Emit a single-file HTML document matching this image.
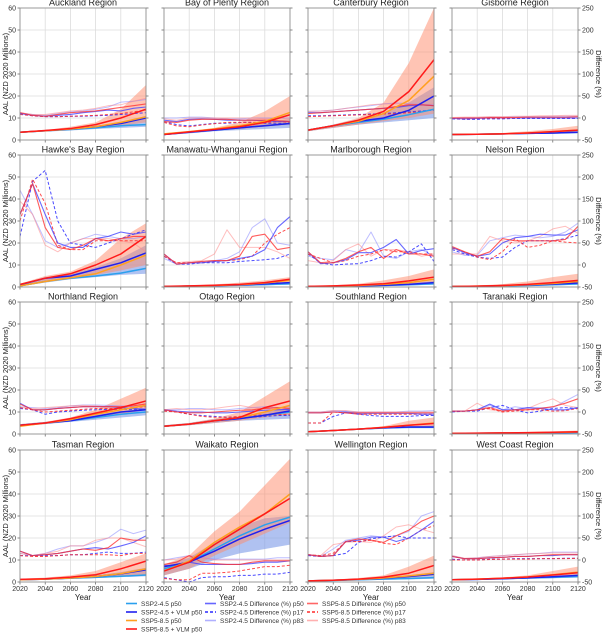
<!DOCTYPE html>
<html><head><meta charset="utf-8"><style>
html,body{margin:0;padding:0;background:#fff;}
svg{display:block;font-family:"Liberation Sans",sans-serif;}
</style></head><body>
<svg id="chart" width="602" height="636" viewBox="0 0 602 636"></svg>
<script>
const years=[2020,2040,2060,2080,2100,2120];
const diffYears=[2020,2030,2040,2050,2060,2070,2080,2090,2100,2110,2120];
const regions=["Auckland Region","Bay of Plenty Region","Canterbury Region","Gisborne Region","Hawke's Bay Region","Manawatu-Whanganui Region","Marlborough Region","Nelson Region","Northland Region","Otago Region","Southland Region","Taranaki Region","Tasman Region","Waikato Region","Wellington Region","West Coast Region"];
const yTicks=[0,10,20,30,40,50,60];
const yTicksRight=[-50,0,50,100,150,200,250];
const xTicks=[2020,2040,2060,2080,2100,2120];
// AAL (NZD 2020 millions)
const s2=[[3.5,4.2,4.8,5.5,6.5,7],[2.5,3.5,4.5,5.5,6.5,7.5],[4.5,6.5,8,9.5,11.5,14],[2.5,2.6,2.8,3,3.2,3.5],[0.5,2.5,4,5,6.3,8.5],[0.2,0.4,0.6,0.8,1.1,1.5],[0.2,0.3,0.5,0.7,1,1.5],[0.2,0.3,0.5,0.7,1,1.4],[4,5,6,7.5,9,10],[3.5,4.5,6,7,8.5,10],[1,1.6,2.2,2.7,3,3],[0.3,0.35,0.4,0.45,0.5,0.6],[1,1.3,1.7,2.1,2.6,3.2],[6,9,15,21,26,29.5],[0.5,0.7,1,1.3,1.6,2],[1,1.2,1.5,1.8,2.1,2.5]];
const s2v=[[3.5,4.2,5,6,7.5,10],[2.5,3.5,4.5,5.5,6.5,7.5],[4.5,6.5,8.5,10,13.5,20],[2.5,2.6,2.8,3,3.2,3.5],[1,4,5,8,11,15.5],[0.2,0.4,0.6,0.9,1.4,2],[0.2,0.3,0.5,0.8,1.2,2],[0.2,0.35,0.6,0.9,1.3,1.8],[4,5,6,8,10,11],[3.5,4.5,6,7,8.5,10.5],[1,1.6,2.2,2.8,3.2,3.2],[0.3,0.35,0.4,0.5,0.6,0.8],[1,1.3,1.8,2.5,3.7,5.5],[7,9,14,19.5,24,28],[0.5,0.8,1.2,1.7,2.5,3.5],[1,1.2,1.5,1.9,2.4,3]];
const s5=[[3.5,4.2,5,6,8,10.5],[2.8,3.8,5,6.5,8.5,12.5],[4.5,6.5,8.5,12,18,29],[2.5,2.6,2.8,3.2,3.8,4.5],[0.5,2.5,4.2,6,10,14.5],[0.2,0.4,0.7,1,1.8,3],[0.2,0.4,0.7,1.2,2,3.5],[0.2,0.4,0.6,1,1.6,2.5],[3.5,5,6.5,9,11,13],[3.5,4.5,6,7.5,10,13],[1,1.6,2.2,3,4,5],[0.3,0.35,0.45,0.55,0.7,0.9],[1,1.3,1.8,2.5,3.8,6],[5,9.5,18,25,31,40],[0.5,0.8,1.2,1.8,2.8,4],[1,1.3,1.7,2.3,3.3,4.5]];
const s5v=[[3.5,4.3,5.2,7,10,14],[2.5,3.7,4.8,6,8,11.5],[4.5,6.5,9,13,22,36.5],[2.5,2.6,2.8,3.2,3.8,4.5],[1.2,4,6,10,15,23],[0.3,0.5,0.8,1.2,2,3.5],[0.3,0.5,0.9,1.5,2.8,4.5],[0.2,0.4,0.7,1.2,2,3],[4,5,7,9.5,12,15],[3.5,4.5,6,7.5,12,15],[1,1.6,2.2,3,4,4.8],[0.3,0.4,0.5,0.6,0.8,1],[1.2,1.5,2.2,3.3,6,9.5],[5,9,17,24,31,38],[0.5,0.8,1.3,2.2,4,7.5],[1,1.3,1.7,2.3,3.2,4.2]];
const b2lo=[[3.2,3.8,4.3,5,5.5,6],[2.2,3,4,4.5,5,5.5],[4,5.5,7,8,9,10],[2.4,2.5,2.6,2.7,2.8,3],[0.3,2,3.5,4.5,5.5,6],[0.1,0.3,0.4,0.6,0.8,1],[0.1,0.2,0.3,0.5,0.7,1],[0.1,0.2,0.3,0.5,0.7,1],[3.5,4.5,5.5,6.5,7.5,8.5],[3.2,4,5,6,6.5,7],[0.8,1.4,2,2.5,2.8,3],[0.2,0.25,0.3,0.35,0.4,0.45],[0.8,1.1,1.4,1.8,2.2,2.6],[3,6,10,13,15,17],[0.3,0.5,0.7,1,1.2,1.5],[0.8,1,1.2,1.5,1.7,2]];
const b2hi=[[3.5,4.3,5.3,6.5,8,11],[3,4,5,6.5,8,9.5],[4.5,7,9.5,12,17,24],[2.6,2.7,3,3.3,3.6,4],[1,4.5,6,9,13,19],[0.3,0.5,0.8,1.1,1.6,2.3],[0.3,0.5,0.8,1.2,1.8,2.7],[0.3,0.5,0.8,1.1,1.6,2.3],[4.5,5.5,6.8,8.5,10.5,12],[4,5,6.8,8,10,12],[1.2,1.8,2.4,3,3.5,4],[0.4,0.45,0.5,0.6,0.75,1],[1.2,1.6,2.2,3,4.5,6.5],[8,11,18,25,29,30],[0.6,0.9,1.4,2,3,4.5],[1.1,1.4,1.8,2.3,3,3.6]];
const b5lo=[[3.5,4,4.5,5.5,6.5,8],[2.5,3.3,4.3,5,6,7],[4,5.5,7,8.5,10,12],[2.4,2.5,2.6,2.8,3,3.2],[0.5,2.5,4,5.5,7.5,10],[0.1,0.3,0.5,0.7,1,1.5],[0.1,0.3,0.5,0.8,1.2,2],[0.1,0.3,0.5,0.7,1,1.5],[3.5,4.5,5.8,7.5,9,11],[3.2,4,5,6,7.5,9],[0.8,1.4,2,2.5,3,3.5],[0.2,0.3,0.35,0.4,0.5,0.6],[0.8,1.1,1.5,2,2.8,3.5],[3,6,12,17,22,27],[0.3,0.6,0.9,1.3,2,3],[0.8,1,1.3,1.6,2,2.5]];
const b5hi=[[3.5,4.5,6,8,14,25],[3,4,5.5,8,13,20],[4.5,7,10,17,35,60],[2.6,2.8,3.2,4,5,6.5],[1.5,5,7,12,22,29],[0.4,0.7,1.2,2,3,4.5],[0.4,0.8,1.5,3,5,8],[0.3,0.7,1.3,2.5,4.5,6],[4.5,5.5,7.5,11,16,21],[4,5,7,10,17,24],[1.2,1.8,2.5,3.5,6,7.5],[0.4,0.5,0.6,0.8,1.2,1.6],[1.5,2,3,5,9,13],[8,12,23,32,44,56],[0.7,1.1,1.8,3,7,12],[1.2,1.5,2.1,3,5,7]];
// Difference (%)
const d2p50=[[10,6,4,6,8,12,15,18,16,22,25],[-5,-8,-3,-2,-3,-5,-5,-5,-6,-8,-8],[12,12,14,16,18,20,22,24,28,30,28],[-1,-2,-1,0,0,0,0,0,0,0,0],[115,185,115,50,40,40,60,65,75,70,75],[25,2,5,5,8,10,15,20,35,85,110],[30,3,5,12,28,28,40,58,25,33,37],[40,28,20,25,50,62,65,70,68,68,80],[20,5,5,8,10,12,12,12,10,8,6],[5,2,0,0,-2,-2,0,2,4,5,6],[-2,-2,0,0,-3,-3,-3,-3,-3,-5,-5],[2,2,5,18,5,5,10,8,5,5,10],[20,10,12,15,20,25,28,25,32,40,55],[-12,-15,-5,-10,-10,-10,-10,-8,-5,-5,-2],[12,8,10,42,45,52,52,42,50,68,88],[8,3,3,5,6,8,8,10,10,12,12]];
const d2p17=[[10,5,3,3,4,4,5,6,8,10,12],[-8,-15,-18,-15,-12,-12,-10,-10,-12,-12,-14],[5,5,6,7,8,9,10,12,14,16,18],[-2,-3,-3,-2,-2,-1,-1,-1,-1,-1,-1],[65,190,215,100,50,45,40,50,60,70,80],[20,2,2,5,5,5,8,10,12,15,25],[25,5,0,2,3,10,20,18,30,48,8],[35,25,18,15,18,40,55,55,55,60,68],[8,5,-5,0,2,4,5,6,6,6,6],[3,0,-5,-8,-10,-12,-12,-12,-10,-8,-8],[-25,-25,-10,-2,-5,-8,-10,-10,-10,-8,-8],[0,2,2,10,15,5,-2,2,8,10,8],[10,10,10,10,12,12,15,18,15,15,18],[-40,-45,-50,-40,-38,-38,-35,-35,-32,-32,-28],[10,8,10,15,40,48,52,55,50,50,50],[2,0,0,2,2,3,3,3,3,4,4]];
const d2p83=[[12,8,6,10,14,16,20,25,36,38,42],[0,0,2,2,0,-2,-2,0,0,0,0],[15,16,18,22,25,28,32,34,33,30,30],[0,1,1,2,2,3,3,3,4,4,4],[170,115,55,40,50,60,70,65,60,60,65],[15,2,5,8,10,15,30,85,105,50,45],[20,15,12,35,28,75,20,15,30,35,20],[30,22,22,55,62,68,65,62,65,75,95],[12,10,8,10,14,16,16,15,14,12,12],[5,5,8,8,5,5,8,10,12,10,12],[0,0,3,2,0,0,0,0,2,2,3],[2,2,5,15,5,12,8,10,10,25,40],[15,10,15,25,32,32,40,50,70,60,68],[0,5,10,5,2,2,2,2,2,5,5],[12,8,25,45,50,55,52,55,65,100,110],[10,3,5,8,10,12,14,15,18,18,18]];
const d5p50=[[12,6,4,8,12,14,16,20,24,28,32],[-8,-10,-5,-3,-3,-3,-5,-5,-5,-6,-8],[10,12,14,16,18,20,22,26,30,30,28],[0,0,0,1,1,1,2,2,2,2,3],[115,185,85,40,35,45,60,55,60,65,65],[25,2,5,8,10,10,20,65,70,35,40],[30,5,5,15,30,40,15,35,25,25,20],[42,30,20,30,60,55,55,55,55,58,88],[18,5,5,8,10,12,12,12,12,14,18],[5,0,-2,-2,0,2,4,5,8,10,8],[-2,-2,0,-2,-2,-2,-2,-2,-2,-2,-2],[2,2,5,10,2,5,5,8,12,20,30],[20,10,12,15,20,25,22,28,50,45,45],[-10,-5,10,-5,-8,-10,-10,-5,-2,-2,-2],[12,8,10,42,48,45,40,55,68,88,100],[8,3,3,5,6,8,8,10,12,12,12]];
const d5p17=[[8,5,3,3,4,5,6,8,10,14,18],[-10,-18,-20,-16,-13,-10,-10,-10,-10,-8,-10],[3,4,5,6,7,8,9,10,12,14,20],[-1,-2,-1,-1,-1,0,0,0,0,0,0],[100,195,140,45,35,35,55,55,55,55,55],[20,5,5,5,8,10,12,20,50,70,85],[25,15,5,10,20,25,35,30,30,25,25],[38,30,18,12,30,60,40,45,55,52,50],[10,5,0,2,4,6,8,8,8,10,12],[2,0,-5,-10,-12,-12,-10,-8,-6,-6,-6],[-25,-25,0,-2,-5,-5,-5,-5,-5,-5,-5],[2,2,5,8,0,2,5,5,2,3,8],[10,8,8,10,12,12,12,12,10,15,15],[-42,-45,-45,-30,-30,-28,-25,-20,-15,-15,-12],[12,10,15,42,42,45,38,35,50,68,78],[0,0,0,1,2,2,2,3,3,3,4]];
const d5p83=[[12,8,8,12,16,18,22,28,30,38,45],[-2,-5,0,0,0,0,0,0,-2,-2,-2],[15,16,18,22,26,30,32,32,32,30,32],[1,2,2,3,3,4,4,5,5,6,6],[145,115,45,30,50,60,60,60,55,50,30],[20,5,8,10,25,80,40,40,40,30,15],[10,5,10,35,48,20,35,35,30,20,25],[25,25,25,65,55,50,55,65,82,88,72],[10,8,10,12,14,15,14,12,12,15,20],[5,8,5,5,8,12,15,10,8,6,5],[0,0,3,3,0,0,0,0,0,0,0],[2,2,20,5,2,5,8,20,30,15,10],[15,10,15,20,32,32,45,50,50,40,30],[0,2,10,5,0,0,0,0,0,0,0],[12,10,35,40,42,40,55,75,80,70,62],[10,4,5,8,10,12,14,15,16,16,16]];

const NS="http://www.w3.org/2000/svg";
const svg=document.getElementById('chart');
function el(tag,attrs,parent,text){const e=document.createElementNS(NS,tag);for(const k in attrs)e.setAttribute(k,attrs[k]);if(text!==undefined)e.textContent=text;(parent||svg).appendChild(e);return e;}
const colX=[20,164,308,452], rowY=[8,155,302,450], PW=126, PH=132;

regions.forEach((name,i)=>{
  const c=i%4,r=Math.floor(i/4);
  const x0=colX[c],y0=rowY[r];
  const xs=v=>x0+(v-2020)/100*PW;
  const ys=v=>y0+PH-v/60*PH;
  const yd=v=>y0+PH-(v+50)/300*PH;
  const g=el('g',{},svg);
  
  
  const cp='clip'+i;
  const cl=el('clipPath',{id:cp},g);el('rect',{x:x0,y:y0,width:PW,height:PH},cl);
  // grid
  xTicks.forEach(t=>{el('line',{x1:xs(t),x2:xs(t),y1:y0,y2:y0+PH,stroke:'#dcdcdc','stroke-width':0.8},g);
    el('line',{x1:xs(t),x2:xs(t),y1:y0+PH,y2:y0+PH+2.5,stroke:'#555','stroke-width':0.7},g);});
  yTicks.forEach(t=>{el('line',{x1:x0,x2:x0+PW,y1:ys(t),y2:ys(t),stroke:'#dcdcdc','stroke-width':0.8},g);
    el('line',{x1:x0-2.5,x2:x0,y1:ys(t),y2:ys(t),stroke:'#555','stroke-width':0.7},g);
    el('line',{x1:x0+PW,x2:x0+PW+2.5,y1:ys(t),y2:ys(t),stroke:'#555','stroke-width':0.7},g);});
  const pg=el('g',{'clip-path':'url(#'+cp+')'},g);
  function band(lo,hi,fill,op,nm){
    let d='M'+years.map((y,k)=>xs(y)+','+ys(hi[i][k])).join('L');
    d+='L'+years.slice().reverse().map((y,k)=>xs(y)+','+ys(lo[i][years.length-1-k])).join('L')+'Z';
    const p=el('path',{d:d,fill:fill,'fill-opacity':op,stroke:'none'},pg);
    
    
  }
  band(b2lo,b2hi,'#7fb8f0',0.45,'ssp2-band');
  band(b2lo,b2hi,'#8080e0',0.3,'ssp2-vlm-band');
  band(b5lo,b5hi,'#ff8a6a',0.5,'ssp5-band');
  function line(arr,xv,yfn,color,w,dash,op,nm){
    const d='M'+xv.map((y,k)=>xs(y)+','+yfn(arr[i][k])).join('L');
    const p=el('path',{d:d,fill:'none',stroke:color,'stroke-width':w,'stroke-opacity':op,'stroke-dasharray':dash||'none','stroke-linejoin':'round'},pg);
    
    
  }
  line(d2p83,diffYears,yd,'#8888ff',1,null,0.55,'ssp2-diff-p83');
  line(d5p83,diffYears,yd,'#ff8888',1,null,0.55,'ssp5-diff-p83');
  line(d2p17,diffYears,yd,'#2a2aff',1,'3,2',0.85,'ssp2-diff-p17');
  line(d5p17,diffYears,yd,'#ff2a2a',1,'3,2',0.85,'ssp5-diff-p17');
  line(d2p50,diffYears,yd,'#4444ff',1.1,null,0.8,'ssp2-diff-p50');
  line(d5p50,diffYears,yd,'#ff3333',1.1,null,0.8,'ssp5-diff-p50');
  line(s2,years,ys,'#2aa0ee',1.5,null,1,'ssp2-p50');
  line(s2v,years,ys,'#2020ee',1.5,null,1,'ssp2-vlm-p50');
  line(s5,years,ys,'#ffa020',1.5,null,1,'ssp5-p50');
  line(s5v,years,ys,'#ff1a1a',1.5,null,1,'ssp5-vlm-p50');
  el('rect',{x:x0,y:y0,width:PW,height:PH,fill:'none',stroke:'#888','stroke-width':0.8},g);
  const t=el('text',{x:x0+PW/2,y:y0-2.5,'text-anchor':'middle','font-size':9,fill:'#222'},g,name);
  
  
  if(c===0){yTicks.forEach(v=>el('text',{x:x0-4,y:ys(v)+2.5,'text-anchor':'end','font-size':7,fill:'#333'},g,v));
    const a=el('text',{x:0,y:0,transform:'translate(8,'+(y0+PH/2)+') rotate(-90)','text-anchor':'middle','font-size':7.5,fill:'#222'},g,'AAL (NZD 2020 Millions)');
    
    }
  if(c===3){yTicksRight.forEach(v=>el('text',{x:x0+PW+4,y:yd(v)+2.5,'text-anchor':'start','font-size':7,fill:'#333'},g,v));
    const a=el('text',{x:0,y:0,transform:'translate(596,'+(y0+PH/2)+') rotate(90)','text-anchor':'middle','font-size':7.5,fill:'#222'},g,'Difference (%)');
    
    }
  if(r===3){xTicks.forEach(v=>el('text',{x:xs(v),y:y0+PH+9,'text-anchor':'middle','font-size':7,fill:'#333'},g,v));
    const a=el('text',{x:x0+PW/2,y:y0+PH+18,'text-anchor':'middle','font-size':8,fill:'#222'},g,'Year');
    
    }
});

const legendLabels=["SSP2-4.5 p50","SSP2-4.5 + VLM p50","SSP5-8.5 p50","SSP5-8.5 + VLM p50","SSP2-4.5 Difference (%) p50","SSP2-4.5 Difference (%) p17","SSP2-4.5 Difference (%) p83","SSP5-8.5 Difference (%) p50","SSP5-8.5 Difference (%) p17","SSP5-8.5 Difference (%) p83"];
const legendColors=['#2aa0ee','#2020ee','#ffa020','#ff1a1a','#6666ff','#2a2aff','#b0b0ff','#ff6666','#ff2a2a','#ffb0b0'];
const legendDash=[null,null,null,null,null,'3,2',null,null,'3,2',null];
const lg=el('g',{},svg);


const lx=[126,205,307], lyy=[606,614.5,623,631.5];
legendLabels.forEach((lab,k)=>{
  const col=k<4?0:(k<7?1:2), row=k<4?k:(k<7?k-4:k-7);
  const e=el('g',{},lg);
  
  
  el('line',{x1:lx[col],x2:lx[col]+11,y1:lyy[row]-2.5,y2:lyy[row]-2.5,stroke:legendColors[k],'stroke-width':1.6,'stroke-dasharray':legendDash[k]||'none'},e);
  el('text',{x:lx[col]+15,y:lyy[row],'font-size':6.5,fill:'#333'},e,lab);
});
</script>
</body></html>
